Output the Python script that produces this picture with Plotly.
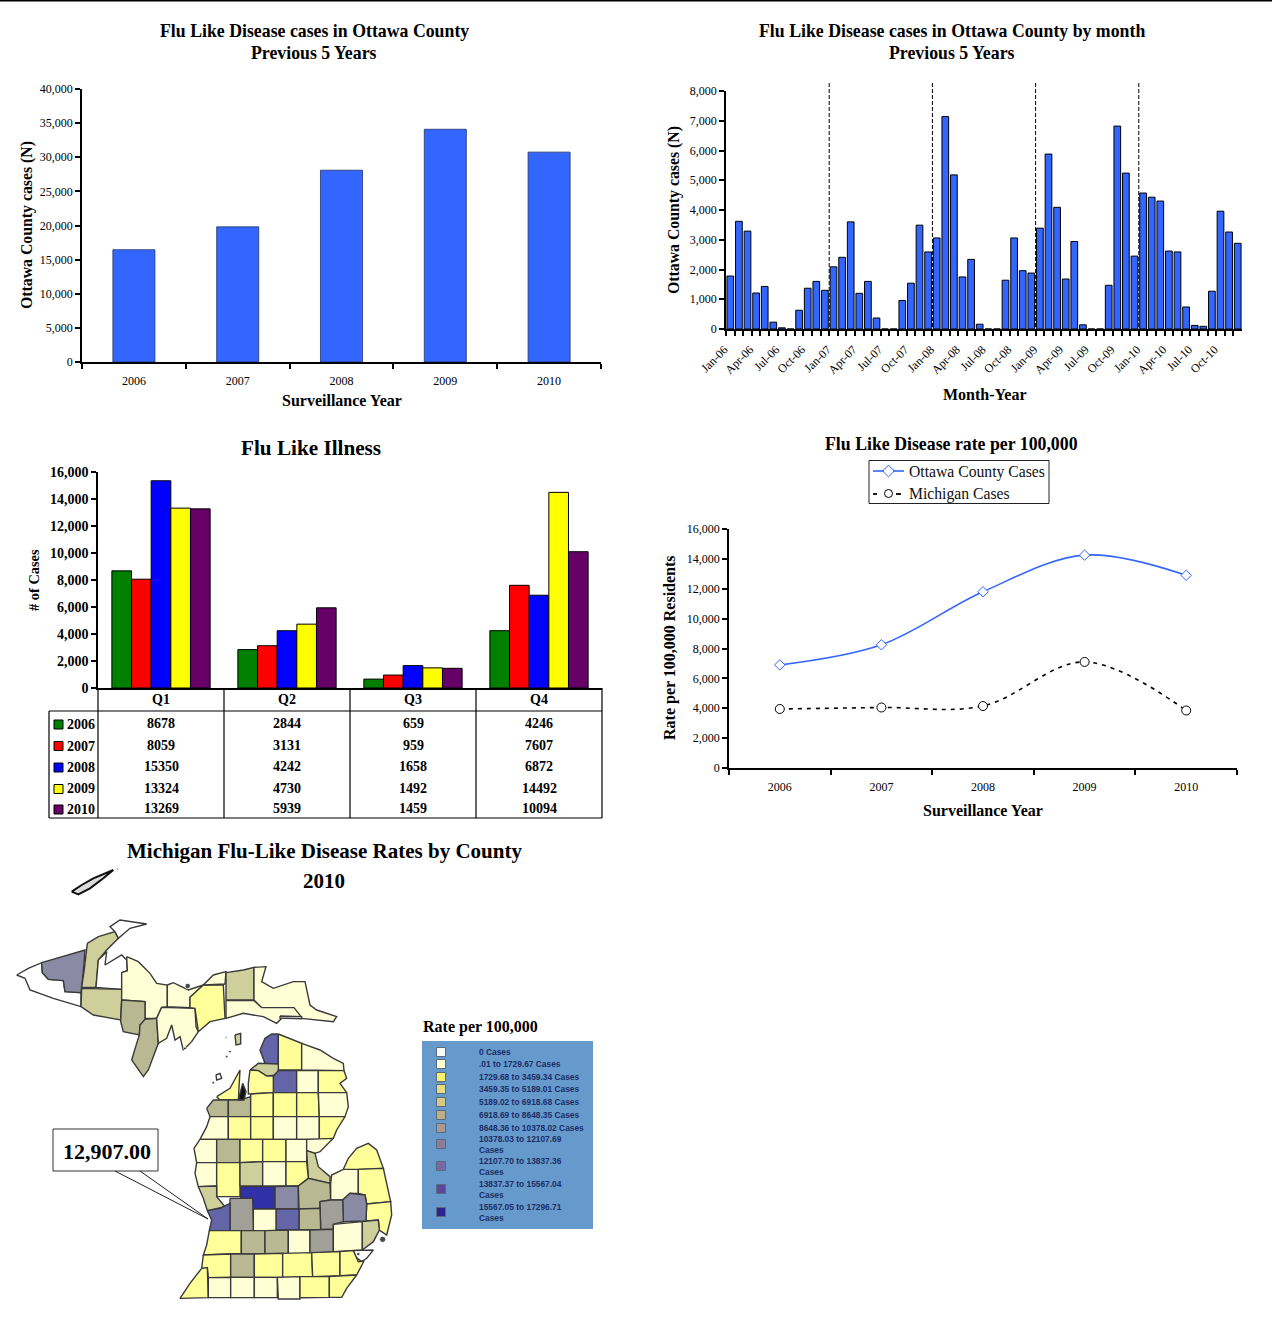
import plotly.graph_objects as go

SERIF = "Liberation Serif"
W, H = 1272, 1337
YEARS = ["2006", "2007", "2008", "2009", "2010"]

# ---- chart 1
ANNUAL_CASES = [16450, 19800, 28100, 34100, 30750]

# ---- chart 2
MONTHS = [m + "-" + y for y in ["06", "07", "08", "09", "10"]
          for m in ["Jan", "Feb", "Mar", "Apr", "May", "Jun", "Jul", "Aug", "Sep", "Oct", "Nov", "Dec"]]
CASES_2006 = [1780, 3620, 3290, 1210, 1430, 230, 40, 0, 630, 1370, 1600, 1300]
CASES_2007 = [2090, 2410, 3600, 1200, 1600, 370, 0, 0, 960, 1540, 3490, 2590]
CASES_2008 = [3060, 7140, 5180, 1750, 2340, 160, 0, 0, 1640, 3060, 1960, 1880]
CASES_2009 = [3390, 5880, 4090, 1680, 2940, 140, 0, 0, 1470, 6820, 5240, 2450]
CASES_2010 = [4570, 4430, 4300, 2620, 2590, 740, 120, 90, 1270, 3960, 3260, 2880]
MONTHLY_CASES = CASES_2006 + CASES_2007 + CASES_2008 + CASES_2009 + CASES_2010
YEAR_BOUNDARIES = [11.5, 23.5, 35.5, 47.5]

# ---- chart 3
QUARTERS = ["Q1", "Q2", "Q3", "Q4"]
Q_2006 = [8678, 2844, 659, 4246]
Q_2007 = [8059, 3131, 959, 7607]
Q_2008 = [15350, 4242, 1658, 6872]
Q_2009 = [13324, 4730, 1492, 14492]
Q_2010 = [13269, 5939, 1459, 10094]
Q_SERIES = [Q_2006, Q_2007, Q_2008, Q_2009, Q_2010]
Q_COLORS = ["#008000", "#ff0000", "#0000ff", "#ffff00", "#660066"]

# ---- chart 4
OTTAWA_RATE = [6900, 8250, 11800, 14250, 12900]
MICHIGAN_RATE = [3950, 4050, 4150, 7100, 3850]

# ---- map legend
LEGEND_LABELS = ["0 Cases", ".01 to 1729.67 Cases", "1729.68 to 3459.34 Cases", "3459.35 to 5189.01 Cases",
                 "5189.02 to 6918.68 Cases", "6918.69 to 8648.35 Cases", "8648.36 to 10378.02 Cases",
                 "10378.03 to 12107.69<br>Cases", "12107.70 to 13837.36<br>Cases",
                 "13837.37 to 15567.04<br>Cases", "15567.05 to 17296.71<br>Cases"]
LEGEND_COLORS = ["#f8f8f8", "#ffffd8", "#f8f070", "#e4dc84", "#d4ca86", "#bcb08a", "#a89a90",
                 "#8c7c9c", "#7a68a4", "#5c4898", "#2c2490"]
LEGEND_ROWS = [1052, 1064, 1077, 1089, 1102, 1115, 1128, 1144, 1166, 1189, 1212]

# ---- map (county outlines)
WHITE, LIGHT, YEL, KHAKI, TAUPE, GREY, SLATE, BLUE, NAVY = (
    "#ffffff", "#ffffd6", "#ffff99", "#cfcf9c", "#b8b892", "#a0a098", "#8a8aa4", "#6464a8", "#3030a8")

UPPER_PENINSULA = [
    (WHITE, [(20,195),(55,175),(95,158),(97,188),(115,208),(160,212),(165,245),(213,248),(213,290),(130,265),(60,240),(45,205)]),
    (SLATE, [(95,158),(160,140),(225,120),(220,185),(213,248),(165,245),(160,212),(115,208),(97,188)]),
    (KHAKI, [(232,100),(265,80),(315,65),(325,85),(290,120),(265,150),(258,232),(215,232),(222,185),(228,130)]),
    (WHITE, [(315,65),(300,50),(330,30),(410,42),(360,55),(325,85)]),
    (WHITE, [(265,150),(290,125),(285,165),(335,135),(350,150),(352,182),(335,188),(335,238),(258,232)]),
    (KHAKI, [(215,235),(335,238),(335,270),(332,330),(250,315),(213,290)]),
    (LIGHT, [(350,140),(385,155),(420,190),(440,220),(472,225),(472,290),(455,292),(440,325),(405,325),(405,275),(335,270),(335,188),(352,182)]),
    (TAUPE, [(335,270),(405,275),(405,335),(390,345),(388,375),(340,365),(332,335)]),
    (TAUPE, [(405,328),(440,325),(445,400),(415,480),(400,500),(365,450),(380,400),(388,375),(390,345)]),
    (LIGHT, [(455,292),(555,295),(558,350),(565,365),(545,395),(520,420),(510,380),(495,390),(485,345),(470,385),(445,400),(440,325)]),
    (LIGHT, [(472,225),(490,218),(535,240),(580,225),(540,262),(540,293),(472,290)]),
    (YEL, [(580,225),(640,225),(645,325),(600,335),(565,365),(555,295),(540,293),(540,262)]),
    (LIGHT, [(580,225),(610,195),(648,185),(645,222)]),
    (KHAKI, [(648,188),(700,180),(732,172),(732,270),(648,270)]),
    (LIGHT, [(732,172),(768,170),(755,215),(790,235),(850,215),(885,215),(900,285),(920,300),(980,320),(970,335),(875,325),(850,295),(755,293),(732,270)]),
    (LIGHT, [(648,272),(732,272),(755,293),(852,293),(875,322),(820,320),(800,340),(760,320),(700,310),(648,325)]),
]
LOWER_NORTH = [
    (BLUE, [(835,402),(835,492),(795,490),(780,450),(795,415),(815,402)]),
    (YEL, [(835,402),(905,430),(905,510),(835,510)]),
    (LIGHT, [(905,430),(960,450),(1000,475),(1030,490),(1032,512),(958,512),(905,510)]),
    (KHAKI, [(750,510),(775,490),(835,492),(835,525),(800,528),(775,512)]),
    (BLUE, [(820,528),(835,512),(890,512),(890,578),(820,578)]),
    (LIGHT, [(890,512),(955,512),(955,578),(890,578)]),
    (YEL, [(955,512),(1032,512),(1040,535),(1020,550),(1040,578),(955,578)]),
    (YEL, [(750,510),(775,512),(800,528),(820,528),(820,578),(745,582),(745,550)]),
    (YEL, [(650,590),(690,565),(720,510),(715,600),(660,600)]),
    (TAUPE, [(620,625),(640,600),(685,600),(685,650),(630,650)]),
    (TAUPE, [(685,600),(720,600),(752,590),(752,650),(685,650)]),
    (YEL, [(752,582),(820,578),(820,650),(752,650)]),
    (YEL, [(820,578),(890,578),(890,650),(820,650)]),
    (YEL, [(890,578),(955,578),(958,650),(890,650)]),
    (LIGHT, [(955,578),(1040,578),(1045,620),(1035,650),(958,650)]),
    (LIGHT, [(630,650),(685,650),(685,718),(600,718),(620,680)]),
    (YEL, [(685,650),(752,650),(752,718),(685,718)]),
    (YEL, [(752,650),(820,650),(820,718),(752,718)]),
    (LIGHT, [(820,650),(890,650),(890,718),(820,718)]),
    (LIGHT, [(890,650),(958,650),(958,718),(890,718)]),
    (YEL, [(958,650),(1035,650),(1010,690),(1000,715),(958,718)]),
]
LOWER_MIDDLE = [
    (LIGHT, [(600,718),(650,718),(650,788),(590,788),(582,745)]),
    (TAUPE, [(650,718),(720,718),(720,788),(650,788)]),
    (YEL, [(720,718),(788,718),(788,785),(720,788)]),
    (YEL, [(788,718),(858,718),(858,785),(788,785)]),
    (LIGHT, [(858,718),(920,718),(920,785),(858,785)]),
    (LIGHT, [(920,718),(1000,715),(960,755),(945,760),(920,752)]),
    (KHAKI, [(920,752),(945,760),(955,800),(990,830),(990,850),(925,835)]),
    (LIGHT, [(590,788),(650,788),(650,858),(595,860),(585,820)]),
    (YEL, [(650,788),(720,788),(720,890),(650,890)]),
    (KHAKI, [(720,788),(788,785),(788,858),(720,858)]),
    (LIGHT, [(788,785),(858,785),(858,858),(788,858)]),
    (YEL, [(858,785),(920,785),(925,835),(895,858),(858,858)]),
    (KHAKI, [(595,860),(650,858),(650,890),(675,920),(622,932),(610,895)]),
    (NAVY, [(722,860),(825,860),(825,927),(760,927),(758,895),(722,895)]),
    (SLATE, [(825,860),(895,858),(895,927),(825,927)]),
    (TAUPE, [(895,858),(925,835),(990,850),(992,900),(960,905),(960,925),(897,927)]),
    (LIGHT, [(992,850),(995,825),(1030,808),(1075,808),(1075,880),(1050,880),(1028,900),(992,900)]),
    (YEL, [(1030,808),(1045,775),(1070,745),(1105,730),(1130,750),(1150,805),(1075,808)]),
    (YEL, [(1075,808),(1150,805),(1172,905),(1100,912),(1095,885),(1075,880)]),
    (YEL, [(1100,912),(1172,905),(1175,945),(1160,1005),(1138,990),(1135,960),(1098,963)]),
    (SLATE, [(1028,900),(1050,880),(1095,885),(1100,912),(1098,963),(1030,965)]),
    (GREY, [(960,905),(992,900),(1028,900),(1030,965),(1000,973),(1000,988),(962,988)]),
    (TAUPE, [(897,927),(960,925),(962,988),(897,990)]),
    (BLUE, [(828,927),(897,927),(897,990),(828,990)]),
    (LIGHT, [(760,927),(828,927),(828,992),(760,992)]),
    (GREY, [(690,895),(758,895),(760,992),(690,992)]),
    (BLUE, [(622,932),(660,925),(690,910),(690,992),(628,992),(635,960)]),
]
LOWER_SOUTH = [
    (YEL, [(628,992),(724,992),(724,1060),(610,1065),(620,1035)]),
    (TAUPE, [(724,992),(795,992),(795,1062),(724,1062)]),
    (TAUPE, [(795,992),(865,990),(865,1062),(795,1062)]),
    (LIGHT, [(865,990),(930,990),(930,1060),(865,1062)]),
    (GREY, [(930,990),(1000,988),(1000,1055),(930,1060)]),
    (LIGHT, [(1000,973),(1087,965),(1087,1050),(1020,1055),(1000,1055)]),
    (KHAKI, [(1087,965),(1135,960),(1138,990),(1120,1025),(1087,1050)]),
    (WHITE, [(1060,1052),(1120,1050),(1100,1075),(1085,1085),(1068,1072)]),
    (YEL, [(610,1065),(692,1062),(692,1132),(625,1133),(622,1103),(605,1105)]),
    (TAUPE, [(692,1062),(763,1062),(763,1132),(692,1132)]),
    (YEL, [(763,1062),(848,1060),(848,1132),(763,1132)]),
    (YEL, [(848,1060),(935,1058),(938,1130),(848,1132)]),
    (YEL, [(935,1058),(1020,1055),(1020,1127),(938,1130)]),
    (YEL, [(1020,1055),(1060,1052),(1075,1085),(1092,1083),(1070,1125),(1020,1127)]),
    (YEL, [(605,1105),(622,1103),(625,1193),(540,1195),(570,1150)]),
    (LIGHT, [(625,1133),(692,1132),(692,1193),(625,1193)]),
    (LIGHT, [(692,1132),(763,1132),(763,1193),(692,1193)]),
    (LIGHT, [(763,1132),(832,1132),(832,1193),(763,1193)]),
    (LIGHT, [(832,1132),(900,1130),(900,1197),(835,1197)]),
    (YEL, [(900,1130),(988,1130),(988,1192),(900,1193)]),
    (YEL, [(988,1130),(1070,1125),(1040,1165),(1025,1192),(988,1192)]),
]
ISLANDS = [
    (KHAKI, [(705,405),(722,400),(722,432),(708,435)]),
    (WHITE, [(648,525),(660,520),(665,535),(650,540)]),
    (WHITE, [(840,348),(905,350),(905,356),(840,354)]),
    ("#111111", [(715,600),(725,565),(728,550),(738,575),(732,600)]),
]
ISLE_ROYALE = [(215,-25),(245,-45),(280,-65),(320,-83),(340,-90),(310,-65),(270,-35),(235,-17)]
BLOTS = [(563,258,8), (1148,1018,9), (1075,1062,5), (678,412,3), (690,455,4), (680,470,4), (640,548,4), (555,445,4), (352,-93,3)]

# ---- geometry helpers
dx = lambda p: p / W
dy = lambda p: 1 - p / H

def note(x, y, text, size, color="black", rot=0, anchor="center", font=SERIF):
    return dict(x=dx(x), y=dy(y), xref="paper", yref="paper", text=text, showarrow=False, textangle=rot,
                xanchor=anchor, yanchor="middle", align="left" if anchor == "left" else "center",
                font=dict(family=font, size=size, color=color))

def seg(x0, y0, x1, y1, width=1.2, color="black", dash="solid"):
    return dict(type="line", xref="paper", yref="paper", x0=dx(x0), y0=dy(y0), x1=dx(x1), y1=dy(y1),
                line=dict(color=color, width=width, dash=dash))

def box(x0, y0, x1, y1, fill, line="black", width=1):
    return dict(type="rect", xref="paper", yref="paper", x0=dx(x0), y0=dy(y0), x1=dx(x1), y1=dy(y1),
                fillcolor=fill, line=dict(color=line, width=width))

def x_axis(px0, px1, size=12, **kw):
    base = dict(domain=[dx(px0), dx(px1)], anchor=kw.pop("anchor"), showline=True, linecolor="black", linewidth=1.5,
                ticks="outside", ticklen=5, tickcolor="black", tickwidth=1.5, tickson="boundaries",
                tickfont=dict(family=SERIF, size=size, color="black"), showgrid=False, type="category",
                automargin=False, fixedrange=True)
    base.update(kw)
    return base

def y_axis(py0, py1, rng, dtick, size=12, **kw):
    base = dict(domain=[dy(py0), dy(py1)], anchor=kw.pop("anchor"), range=rng, dtick=dtick, tickformat=",d",
                showline=True, linecolor="black", linewidth=1.5, ticks="outside", ticklen=5, tickcolor="black",
                tickwidth=1.5, tickfont=dict(family=SERIF, size=size, color="black"), showgrid=False, zeroline=False,
                automargin=False, fixedrange=True)
    base.update(kw)
    return base

fig = go.Figure()
BAR_BLUE = "#3366ff"

fig.add_trace(go.Bar(x=YEARS, y=ANNUAL_CASES, width=0.405, marker=dict(color=BAR_BLUE, line=dict(color="#223366", width=0.8)),
                     xaxis="x", yaxis="y", showlegend=False))
fig.add_trace(go.Bar(x=MONTHS, y=MONTHLY_CASES, width=0.78, marker=dict(color=BAR_BLUE, line=dict(color="black", width=1)),
                     xaxis="x2", yaxis="y2", showlegend=False))
for yr, vals, col in zip(YEARS, Q_SERIES, Q_COLORS):
    fig.add_trace(go.Bar(x=QUARTERS, y=vals, name=yr, marker=dict(color=col, line=dict(color="black", width=1)),
                         xaxis="x3", yaxis="y3", showlegend=False, offsetgroup=yr))
fig.add_trace(go.Scatter(x=YEARS, y=OTTAWA_RATE, name="Ottawa County Cases", mode="lines+markers",
                         line=dict(color=BAR_BLUE, width=1.6, shape="spline", smoothing=1),
                         marker=dict(symbol="diamond", size=8, color="white", line=dict(color=BAR_BLUE, width=1)),
                         xaxis="x4", yaxis="y4", showlegend=False))
fig.add_trace(go.Scatter(x=YEARS, y=MICHIGAN_RATE, name="Michigan Cases", mode="lines+markers",
                         line=dict(color="black", width=1.6, dash="4px,5px", shape="spline", smoothing=1),
                         marker=dict(symbol="circle", size=9, color="white", line=dict(color="black", width=1)),
                         xaxis="x4", yaxis="y4", showlegend=False))

# map traces
def poly(points, fill, shift=0, width=1.4, line="#3a3a3a"):
    fig.add_trace(go.Scatter(x=[p[0] + shift for p in points] + [points[0][0] + shift],
                             y=[p[1] + shift for p in points] + [points[0][1] + shift],
                             mode="lines", fill="toself", fillcolor=fill,
                             line=dict(color=line, width=width), xaxis="x5", yaxis="y5",
                             showlegend=False, hoverinfo="skip"))

for fill, pts in UPPER_PENINSULA:
    poly(pts, fill, 30)
for group in (LOWER_NORTH, LOWER_MIDDLE, LOWER_SOUTH, ISLANDS):
    for fill, pts in group:
        poly(pts, fill)
poly(ISLE_ROYALE, "#dddddd", 0, 2, "#111111")
fig.add_trace(go.Scatter(x=[b[0] for b in BLOTS], y=[b[1] for b in BLOTS], mode="markers",
                         marker=dict(color="black", size=[b[2] * 0.7 for b in BLOTS]),
                         xaxis="x5", yaxis="y5", showlegend=False, hoverinfo="skip"))

shapes = [seg(0, 0.5, W, 0.5, 2)]
for b in YEAR_BOUNDARIES:
    shapes.append(dict(type="line", xref="x2", yref="paper", x0=b, x1=b, y0=dy(83), y1=dy(329),
                       line=dict(color="black", width=1, dash="4px,2px")))

# data table under chart 3
TABLE_X = [98, 224, 350, 476, 602]
for x in TABLE_X:
    shapes.append(seg(x, 688, x, 818))
shapes += [seg(49, 711, 602, 711), seg(49, 711, 49, 818), seg(49, 818, 602, 818)]
TABLE_ROWS = [723.5, 745, 766.5, 788, 808.5]
anns = []
for yr, vals, col, ry in zip(YEARS, Q_SERIES, Q_COLORS, TABLE_ROWS):
    shapes.append(box(54, ry - 3.5, 63, ry + 5.5, col))
    anns.append(note(80.5, ry + 1, f"<b>{yr}</b>", 14))
    for i, v in enumerate(vals):
        anns.append(note((TABLE_X[i] + TABLE_X[i + 1]) / 2, ry, f"<b>{v}</b>", 14))

# chart 4 legend (box without fill so its sample markers stay visible)
shapes += [box(869, 460.5, 1049, 503.5, "rgba(0,0,0,0)", "#222222", 1),
           seg(873, 471, 884, 471, 1.6, BAR_BLUE), seg(893, 471, 904, 471, 1.6, BAR_BLUE),
           seg(873, 494, 877, 494, 1.8), seg(896, 494, 901, 494, 1.8)]
anns += [note(907, 472, "Ottawa County Cases", 15.7, "#111111", anchor="left"),
         note(907, 494, "Michigan Cases", 15.7, "#111111", anchor="left")]
fig.add_trace(go.Scatter(x=[888.5], y=[471], mode="markers", xaxis="x6", yaxis="y6", showlegend=False, hoverinfo="skip",
                         marker=dict(symbol="diamond", size=9, color="white", line=dict(color=BAR_BLUE, width=1))))
fig.add_trace(go.Scatter(x=[888.5], y=[493.5], mode="markers", xaxis="x6", yaxis="y6", showlegend=False, hoverinfo="skip",
                         marker=dict(symbol="circle", size=8, color="white", line=dict(color="black", width=1))))

# callout
shapes += [box(53, 1129, 158, 1171, "white", "#333333", 1),
           seg(115, 1171, 208, 1219, 1, "#222222"), seg(140, 1171, 208, 1219, 1, "#222222")]
anns.append(note(107, 1151, "<b>12,907.00</b>", 22))

# map legend panel
shapes.append(box(422, 1041, 593, 1229, "#6699cc", "#6699cc", 0))
for lab, col, ry in zip(LEGEND_LABELS, LEGEND_COLORS, LEGEND_ROWS):
    shapes.append(box(436.5, ry - 4.5, 445.5, ry + 4.5, col, "#5a6a7a", 1))
    anns.append(note(476.5, ry, f"<b>{lab}</b>", 8.4, "#1c2e66", anchor="left", font="Liberation Sans"))

# titles
anns += [
    note(314, 31, "<b>Flu Like Disease cases in Ottawa County</b>", 17.8),
    note(314, 53, "<b>Previous 5 Years</b>", 17.8),
    note(952, 31, "<b>Flu Like Disease cases in Ottawa County by month</b>", 17.8),
    note(952, 53, "<b>Previous 5 Years</b>", 17.8),
    note(311, 448, "<b>Flu Like Illness</b>", 21.2),
    note(952, 444, "<b>Flu Like Disease rate per 100,000</b>", 17.8),
    note(324, 851, "<b>Michigan Flu-Like Disease Rates by County</b>", 21),
    note(324, 881, "<b>2010</b>", 21),
    note(480, 1027, "<b>Rate per 100,000</b>", 16),
    note(342, 400, "<b>Surveillance Year</b>", 16),
    note(985, 394, "<b>Month-Year</b>", 16),
    note(983, 810, "<b>Surveillance Year</b>", 16),
    note(27, 225, "<b>Ottawa County cases (N)</b>", 15.8, rot=-90),
    note(674, 210, "<b>Ottawa County cases (N)</b>", 15.8, rot=-90),
    note(34, 580, "<b># of Cases</b>", 14.4, rot=-90),
    note(670, 648, "<b>Rate per 100,000 Residents</b>", 16, rot=-90),
]

layout = dict(
    width=W, height=H, autosize=False, margin=dict(l=0, r=0, t=0, b=0, pad=0), showlegend=False,
    paper_bgcolor="white", plot_bgcolor="rgba(0,0,0,0)", barmode="group", bargap=0.22, bargroupgap=0,
    font=dict(family=SERIF, color="black"), shapes=shapes, annotations=anns, hovermode=False,
    xaxis=x_axis(82, 601, anchor="y", ticklabelstandoff=7, range=[-0.5, 4.5]),
    yaxis=y_axis(362, 89, [0, 40000], 5000, anchor="x"),
    xaxis2=x_axis(726, 1242, anchor="y2", tickmode="linear", tick0=0, dtick=1, ticklabelstep=3, tickangle=-45,
                  ticklabelstandoff=7, ticklabelshift=-6, range=[-0.5, 59.5]),
    yaxis2=y_axis(329, 91, [0, 8000], 1000, anchor="x2"),
    xaxis3=x_axis(98, 602, size=14, anchor="y3", ticks="", ticklen=0, range=[-0.5, 3.5],
                  ticktext=[f"<b>{q}</b>" for q in QUARTERS], tickvals=QUARTERS, ticklabelstandoff=-3),
    yaxis3=y_axis(688, 472, [0, 16000], 2000, size=14, anchor="x3", tickprefix="<b>", ticksuffix="</b>"),
    xaxis4=x_axis(729, 1237, anchor="y4", ticklabelstandoff=7, range=[-0.5, 4.5]),
    yaxis4=y_axis(768, 529, [0, 16000], 2000, anchor="x4"),
    xaxis5=dict(domain=[0, dx(400)], range=[0, 1200], visible=False, fixedrange=True, anchor="y5"),
    yaxis5=dict(domain=[dy(1310), dy(840)], range=[1230, -180], visible=False, fixedrange=True, anchor="x5"),
    xaxis6=dict(domain=[0, 1], range=[0, W], visible=False, fixedrange=True, anchor="y6"),
    yaxis6=dict(domain=[0, 1], range=[H, 0], visible=False, fixedrange=True, anchor="x6"),
)
fig.update_layout(**layout)
fig.write_html("out.html", config=dict(displayModeBar=False),
               post_script="document.body.style.margin='0';document.documentElement.style.overflow='hidden';")
